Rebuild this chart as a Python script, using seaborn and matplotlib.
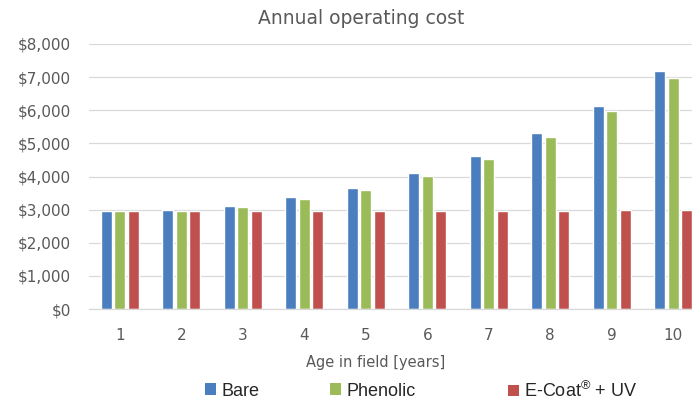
import matplotlib
matplotlib.use("Agg")
import matplotlib.pyplot as plt
import seaborn as sns
import pandas as pd
from matplotlib.patches import Patch
from matplotlib.ticker import FuncFormatter

# Annual operating cost per coating option, by age in field
years = [1, 2, 3, 4, 5, 6, 7, 8, 9, 10]
bare = [2950, 2980, 3120, 3370, 3660, 4100, 4620, 5300, 6130, 7170]
phenolic = [2950, 2950, 3090, 3320, 3580, 4010, 4520, 5180, 5980, 6980]
ecoat_uv = [2960, 2960, 2960, 2960, 2970, 2970, 2970, 2970, 2990, 2990]

series_names = ["Bare", "Phenolic", "E-Coat$^{\u00ae}$ + UV"]
colors = ["#4A7EBF", "#9BBB59", "#C0504D"]

df = pd.DataFrame({
    "year": years * 3,
    "cost": bare + phenolic + ecoat_uv,
    "series": ["Bare"] * 10 + ["Phenolic"] * 10 + ["E-Coat + UV"] * 10,
})

sns.set_theme(style="white")
plt.rcParams["font.family"] = ["DejaVu Sans"]
plt.rcParams["mathtext.fontset"] = "custom"
plt.rcParams["mathtext.rm"] = "Liberation Sans"
plt.rcParams["mathtext.it"] = "Liberation Sans"
plt.rcParams["mathtext.default"] = "rm"

fig = plt.figure(figsize=(6.92, 4.05), dpi=100)
ax = fig.add_axes([89 / 692, 96 / 405, 615 / 692, 265 / 405])

sns.barplot(data=df, x="year", y="cost", hue="series", palette=colors,
            width=0.66, gap=0.18, ax=ax, legend=False, saturation=1)

ax.set_ylim(0, 8000)
ax.set_yticks(range(0, 8001, 1000))
ax.yaxis.set_major_formatter(FuncFormatter(lambda v, p: f"${int(v):,}"))
ax.grid(axis="y", color="#D9D9D9", linewidth=0.9)
ax.set_axisbelow(True)
for side in ["top", "right", "left"]:
    ax.spines[side].set_visible(False)
ax.spines["bottom"].set_color("#D9D9D9")
ax.spines["bottom"].set_linewidth(0.9)
ax.tick_params(axis="both", length=0, colors="#595959")
ax.tick_params(axis="y", labelsize=11, pad=13)
ax.tick_params(axis="x", labelsize=11, pad=14)

ax.set_ylabel("")
ax.set_xlabel("Age in field [years]", fontsize=10.5, color="#595959")
ax.xaxis.set_label_coords((376 - 89) / 615, -(355 - 309) / 265)
fig.text(361 / 692, 1 - 18 / 405, "Annual operating cost", ha="center", va="center",
         fontsize=13.5, color="#595959")

# One legend entry per series, each anchored at its own left edge
legend_left = [205, 330, 508]
for name, color, x0 in zip(series_names, colors, legend_left):
    fig.legend([Patch(facecolor=color, edgecolor="none")], [name], loc="center left",
               bbox_to_anchor=(x0 / 692, 1 - 391 / 405), frameon=False,
               borderpad=0, borderaxespad=0, handlelength=0.6, handleheight=0.6,
               handletextpad=0.3, prop={"family": "Liberation Sans", "size": 13})

fig.savefig("out.png", dpi=100)
